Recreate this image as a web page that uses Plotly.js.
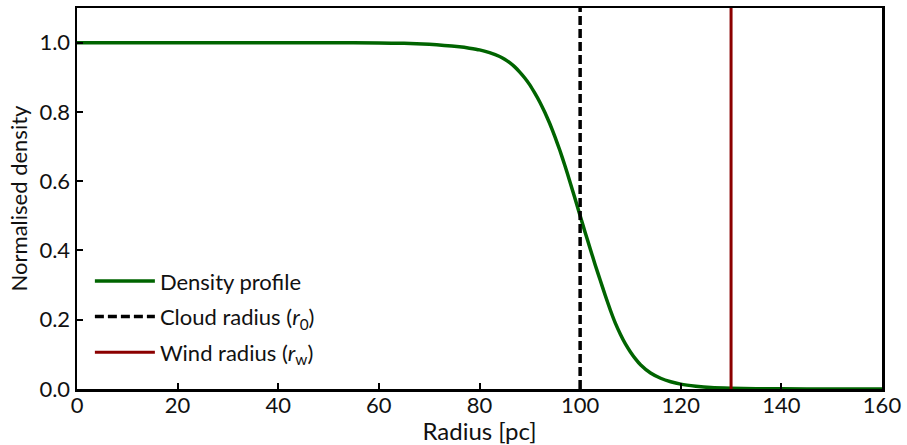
<!DOCTYPE html>
<html>
<head>
<meta charset="utf-8">
<script src="https://cdn.plot.ly/plotly-3.0.1.min.js"></script>
<style>html,body{margin:0;padding:0;background:#fff;}#chart{width:907px;height:445px;}</style>
</head>
<body>
<div id="chart"></div>
<script>
// Radius [pc] samples
const radius = [0, 20, 40, 50, 60, 65, 70, 73, 76, 78, 80, 82, 84, 85, 86, 87, 88, 89, 90, 91, 92, 93, 94, 95, 96, 97, 98, 99, 100, 101, 102, 103, 104, 105, 106, 107, 108, 109, 110, 111, 112, 114, 116, 118, 120, 123, 126, 130, 135, 140, 150, 160];
const density = [1.0, 1.0, 1.0, 1.0, 0.999, 0.998, 0.995, 0.992, 0.988, 0.984, 0.979, 0.971, 0.96, 0.952, 0.942, 0.93, 0.915, 0.898, 0.878, 0.854, 0.828, 0.798, 0.765, 0.728, 0.688, 0.644, 0.597, 0.549, 0.5, 0.452, 0.405, 0.358, 0.314, 0.27, 0.228, 0.19, 0.158, 0.13, 0.107, 0.087, 0.07, 0.046, 0.031, 0.021, 0.014, 0.008, 0.004, 0.002, 0.001, 0.0004, 0.0001, 0.0];
const cloudRadius = 100;
const windRadius = 130;
const yRange = [0, 1.1];
const xRange = [0, 160];
const labels = ["Density profile", "Cloud radius (<i>r</i><sub>0</sub>)", "Wind radius (<i>r</i><sub>w</sub>)"];

const traces = [
  {x: radius, y: density, type: 'scatter', mode: 'lines', name: labels[0], legendgroup: 'a',
   line: {color: '#006400', width: 3.5, shape: 'spline', smoothing: 0.4}},
  {x: [cloudRadius, cloudRadius], y: yRange, type: 'scatter', mode: 'lines', name: labels[1], legendgroup: 'b',
   line: {color: '#000000', width: 3.5, dash: '9px,4px'}},
  {x: [windRadius, windRadius], y: yRange, type: 'scatter', mode: 'lines', name: labels[2], legendgroup: 'c',
   line: {color: '#8b0000', width: 3}}
];

const axisCommon = {
  showgrid: false, zeroline: false, showline: true, linecolor: '#000', linewidth: 2.5,
  mirror: true, ticks: 'inside', ticklen: 6, tickwidth: 2, tickcolor: '#000',
  tickfont: {family: 'Lato, sans-serif', size: 22, color: '#111'}
};

const layout = {
  width: 907, height: 445,
  margin: {l: 77, r: 25, t: 8, b: 56},
  paper_bgcolor: '#fff', plot_bgcolor: '#fff',
  font: {family: 'Lato, sans-serif', color: '#111'},
  showlegend: true,
  legend: {x: 0.016, y: 0.338, xanchor: 'left', yanchor: 'top', bgcolor: 'rgba(0,0,0,0)', itemwidth: 60,
           font: {family: 'Lato, sans-serif', size: 22, color: '#111'}, tracegroupgap: 4},
  xaxis: Object.assign({}, axisCommon, {range: xRange, tickvals: [0, 20, 40, 60, 80, 100, 120, 140, 160],
    ticklabelstandoff: -5,
    title: {text: 'Radius [pc]', font: {family: 'Lato, sans-serif', size: 24, color: '#111'}, standoff: 2}}),
  yaxis: Object.assign({}, axisCommon, {range: yRange, tickvals: [0, 0.2, 0.4, 0.6, 0.8, 1.0], tickformat: '.1f',
    title: {text: 'Normalised density', font: {family: 'Lato, sans-serif', size: 22, color: '#111'}, standoff: 6}})
};

Plotly.newPlot('chart', traces, layout, {displayModeBar: false, staticPlot: true});
</script>
</body>
</html>
